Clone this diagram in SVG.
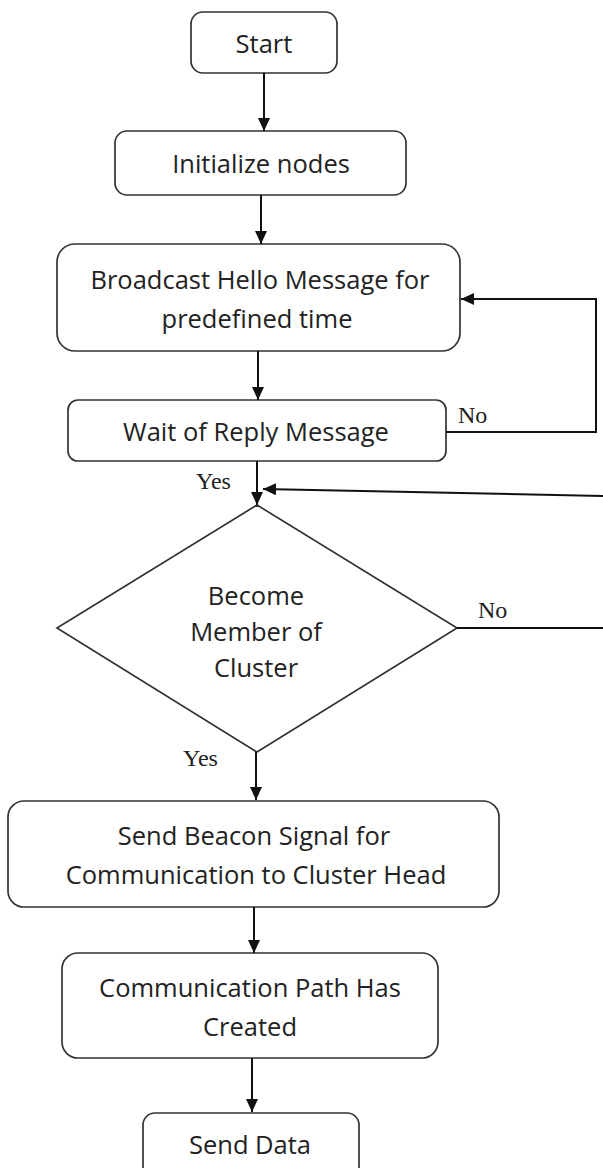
<svg xmlns="http://www.w3.org/2000/svg" width="603" height="1168" viewBox="0 0 603 1168">
<defs>
<marker id="ah" markerWidth="14" markerHeight="12" refX="13" refY="6" orient="auto" markerUnits="userSpaceOnUse">
<path d="M0,0 L13,6 L0,12 Z" fill="#111"/>
</marker>
<style>
.box{fill:#fff;stroke:#333;stroke-width:1.7}
.t{font-family:"Open Sans","Liberation Sans",sans-serif;font-size:25.5px;fill:#222;text-anchor:middle}
.lbl{font-family:"Liberation Serif","Times New Roman",serif;font-size:24px;fill:#222}
.c{fill:none;stroke:#111;stroke-width:2}
.ca{fill:none;stroke:#111;stroke-width:2;marker-end:url(#ah)}
</style>
</defs>
<rect width="603" height="1168" fill="#fff"/>
<g id="start">
<rect class="box" x="191" y="12" width="146" height="61" rx="12"/>
<text class="t" x="264" y="53">Start</text>
</g>
<g id="init">
<rect class="box" x="115" y="131" width="291" height="64" rx="12"/>
<text class="t" x="261" y="173">Initialize nodes</text>
</g>
<g id="broadcast">
<rect class="box" x="57" y="244" width="403" height="107" rx="18"/>
<text class="t" x="260" y="289">Broadcast Hello Message for</text>
<text class="t" x="257" y="328">predefined time</text>
</g>
<g id="wait">
<rect class="box" x="68" y="400" width="378" height="61" rx="10"/>
<text class="t" x="256" y="441">Wait of Reply Message</text>
</g>
<g id="decision">
<polygon class="box" points="257,505 457,628 257,752 57,628"/>
<text class="t" x="256" y="605">Become</text>
<text class="t" x="256" y="641">Member of</text>
<text class="t" x="256" y="677">Cluster</text>
</g>
<g id="beacon">
<rect class="box" x="8" y="801" width="491" height="106" rx="16"/>
<text class="t" x="254" y="845">Send Beacon Signal for</text>
<text class="t" x="256" y="884">Communication to Cluster Head</text>
</g>
<g id="path">
<rect class="box" x="62" y="953" width="376" height="105" rx="16"/>
<text class="t" x="250" y="997">Communication Path Has</text>
<text class="t" x="250" y="1036">Created</text>
</g>
<g id="senddata">
<rect class="box" x="143" y="1113" width="216" height="80" rx="12"/>
<text class="t" x="250" y="1154">Send Data</text>
</g>
<g id="connectors">
<line class="ca" x1="264" y1="73" x2="264" y2="131"/>
<line class="ca" x1="261" y1="195" x2="261" y2="244"/>
<line class="ca" x1="258" y1="351" x2="258" y2="400"/>
<line class="ca" x1="257" y1="461" x2="257" y2="505"/>
<polyline class="ca" points="446,432 596,432 596,299 461,299"/>
<line class="ca" x1="603" y1="496" x2="263" y2="489"/>
<line class="c" x1="457" y1="628" x2="603" y2="628"/>
<line class="ca" x1="256" y1="752" x2="256" y2="800"/>
<line class="ca" x1="254" y1="907" x2="254" y2="953"/>
<line class="ca" x1="252" y1="1058" x2="252" y2="1112"/>
<text class="lbl" x="458" y="423">No</text>
<text class="lbl" x="196" y="489">Yes</text>
<text class="lbl" x="478" y="618">No</text>
<text class="lbl" x="183" y="766">Yes</text>
</g>
</svg>
